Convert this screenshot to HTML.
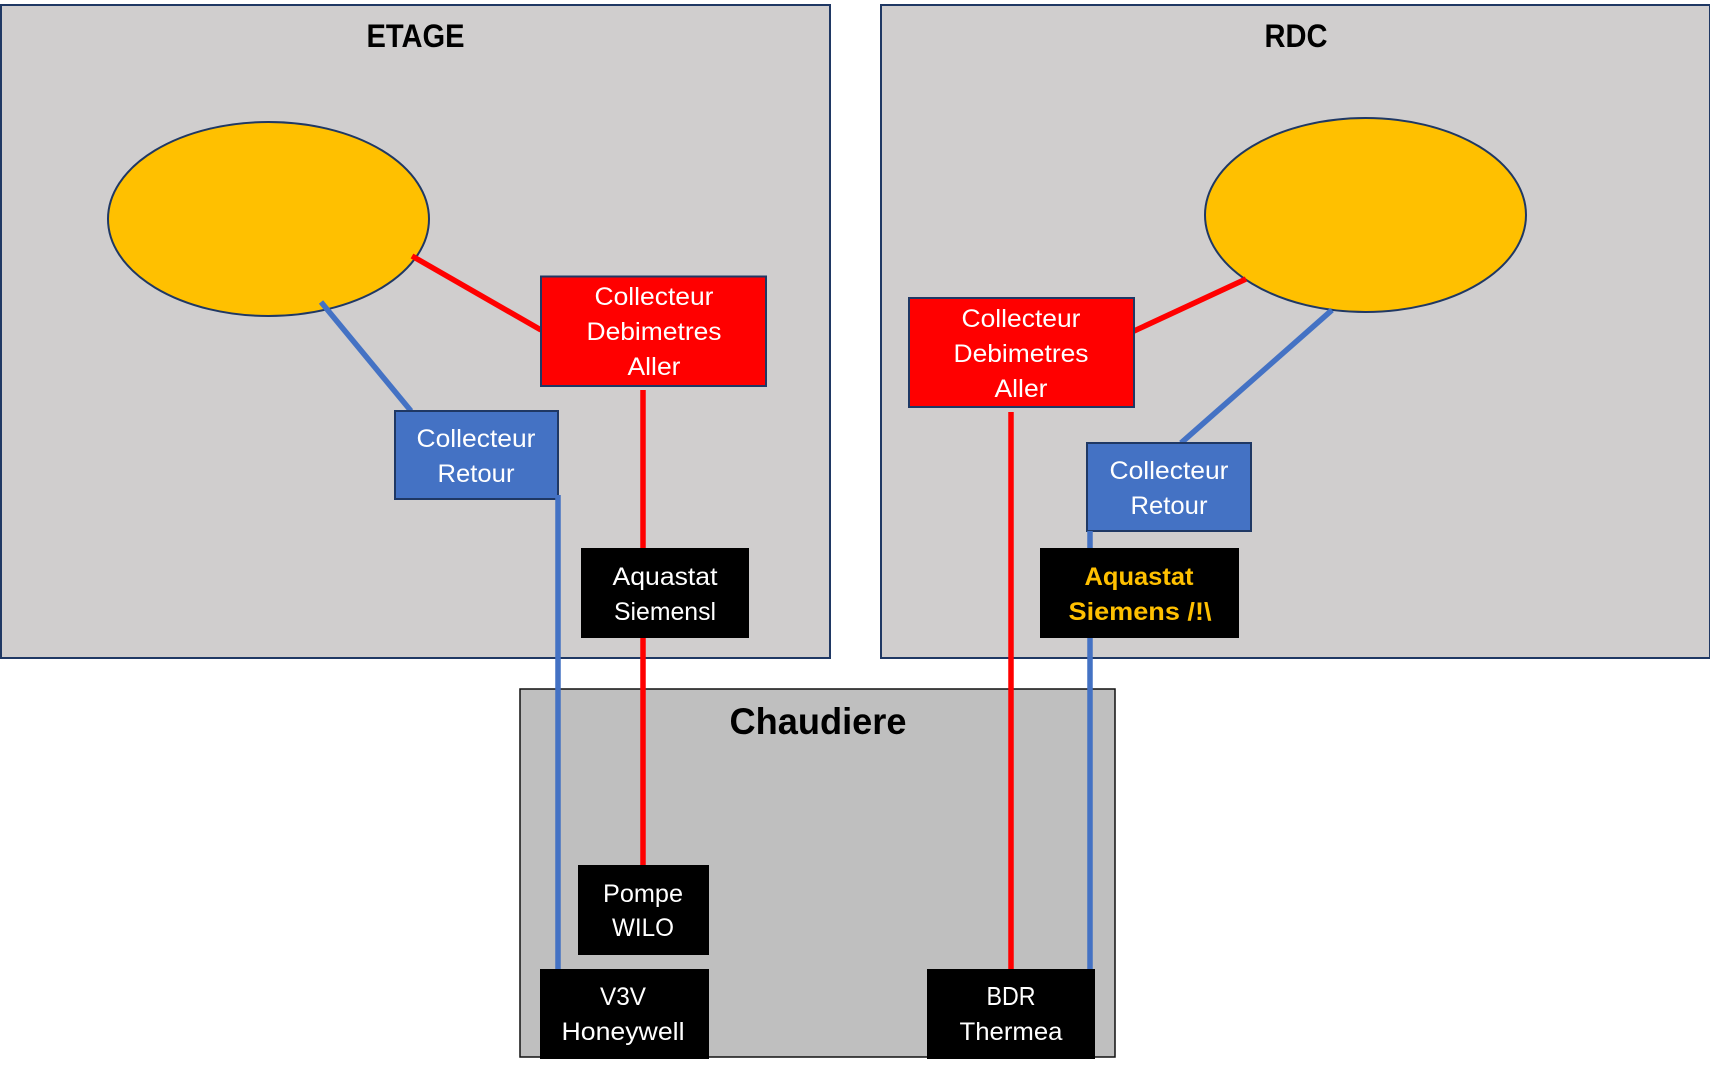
<!DOCTYPE html>
<html><head><meta charset="utf-8"><style>
html,body{margin:0;padding:0;background:#fff}
svg{display:block}
text{font-family:"Liberation Sans",sans-serif;text-anchor:middle}
.w{fill:#fff;font-size:25px}
.t{fill:#000;font-weight:bold;font-size:32px}
.y{fill:#ffc000;font-weight:bold;font-size:25px}
.box{stroke:#1f3864;stroke-width:2}
</style></head><body>
<svg width="1710" height="1067" viewBox="0 0 1710 1067" xmlns="http://www.w3.org/2000/svg">
<rect width="1710" height="1067" fill="#fff"/>
<rect x="1" y="5" width="829" height="653" fill="#d0cece" class="box"/>
<rect x="881" y="5" width="829" height="653" fill="#d0cece" class="box"/>
<rect x="520" y="689" width="595" height="368" fill="#bfbfbf" stroke="#111" stroke-width="1.500"/>

<ellipse cx="268.500" cy="219" rx="160.500" ry="97" fill="#ffc000" stroke="#1f3864" stroke-width="2"/>
<ellipse cx="1365.500" cy="215" rx="160.500" ry="97" fill="#ffc000" stroke="#1f3864" stroke-width="2"/>

<g fill="none" stroke-width="5.500">
<line x1="412" y1="256" x2="541" y2="330" stroke="#ff0000"/>
<line x1="321" y1="302" x2="411" y2="411" stroke="#4472c4"/>
<line x1="1134" y1="331" x2="1246" y2="279" stroke="#ff0000"/>
<line x1="1332" y1="310" x2="1181" y2="443" stroke="#4472c4"/>
</g>

<rect x="541" y="276.500" width="225" height="109.500" fill="#ff0000" class="box"/>
<rect x="395" y="411" width="163" height="88" fill="#4472c4" class="box"/>
<rect x="909" y="298" width="225" height="109" fill="#ff0000" class="box"/>
<rect x="1087" y="443" width="164" height="88" fill="#4472c4" class="box"/>

<g fill="none" stroke-width="5.500">
<line x1="558" y1="495" x2="558" y2="970" stroke="#4472c4"/>
<line x1="643" y1="390" x2="643" y2="866" stroke="#ff0000"/>
<line x1="1011" y1="412" x2="1011" y2="970" stroke="#ff0000"/>
<line x1="1090" y1="531" x2="1090" y2="970" stroke="#4472c4"/>
</g>

<rect x="581" y="548" width="168" height="90" fill="#000"/>
<rect x="1040" y="548" width="199" height="90" fill="#000"/>
<rect x="578" y="865" width="131" height="90" fill="#000"/>
<rect x="540" y="969" width="169" height="90" fill="#000"/>
<rect x="927" y="969" width="168" height="90" fill="#000"/>

<text class="t" x="415.500" y="47" textLength="98" lengthAdjust="spacingAndGlyphs">ETAGE</text>
<text class="t" x="1296" y="47" textLength="63" lengthAdjust="spacingAndGlyphs">RDC</text>
<text class="t" x="818" y="734" textLength="177" lengthAdjust="spacingAndGlyphs" style="font-size:37px">Chaudiere</text>

<text class="w" x="654" y="305" textLength="119" lengthAdjust="spacingAndGlyphs">Collecteur</text>
<text class="w" x="654" y="340" textLength="135" lengthAdjust="spacingAndGlyphs">Debimetres</text>
<text class="w" x="654" y="375" textLength="53" lengthAdjust="spacingAndGlyphs">Aller</text>

<text class="w" x="476" y="447" textLength="119" lengthAdjust="spacingAndGlyphs">Collecteur</text>
<text class="w" x="476" y="482" textLength="77" lengthAdjust="spacingAndGlyphs">Retour</text>

<text class="w" x="665" y="585" textLength="105" lengthAdjust="spacingAndGlyphs">Aquastat</text>
<text class="w" x="665" y="620" textLength="102" lengthAdjust="spacingAndGlyphs">Siemensl</text>

<text class="w" x="1021" y="327" textLength="119" lengthAdjust="spacingAndGlyphs">Collecteur</text>
<text class="w" x="1021" y="362" textLength="135" lengthAdjust="spacingAndGlyphs">Debimetres</text>
<text class="w" x="1021" y="397" textLength="53" lengthAdjust="spacingAndGlyphs">Aller</text>

<text class="w" x="1169" y="479" textLength="119" lengthAdjust="spacingAndGlyphs">Collecteur</text>
<text class="w" x="1169" y="514" textLength="77" lengthAdjust="spacingAndGlyphs">Retour</text>

<text class="y" x="1139" y="585" textLength="109" lengthAdjust="spacingAndGlyphs">Aquastat</text>
<text class="y" x="1140" y="620" textLength="143" lengthAdjust="spacingAndGlyphs">Siemens /!\</text>

<text class="w" x="643" y="902" textLength="80" lengthAdjust="spacingAndGlyphs">Pompe</text>
<text class="w" x="643" y="936" textLength="62" lengthAdjust="spacingAndGlyphs">WILO</text>

<text class="w" x="623" y="1005" textLength="46" lengthAdjust="spacingAndGlyphs">V3V</text>
<text class="w" x="623" y="1040" textLength="123" lengthAdjust="spacingAndGlyphs">Honeywell</text>

<text class="w" x="1011" y="1005" textLength="49" lengthAdjust="spacingAndGlyphs" style="font-size:26px">BDR</text>
<text class="w" x="1011" y="1040" textLength="103" lengthAdjust="spacingAndGlyphs">Thermea</text>
</svg>
</body></html>
